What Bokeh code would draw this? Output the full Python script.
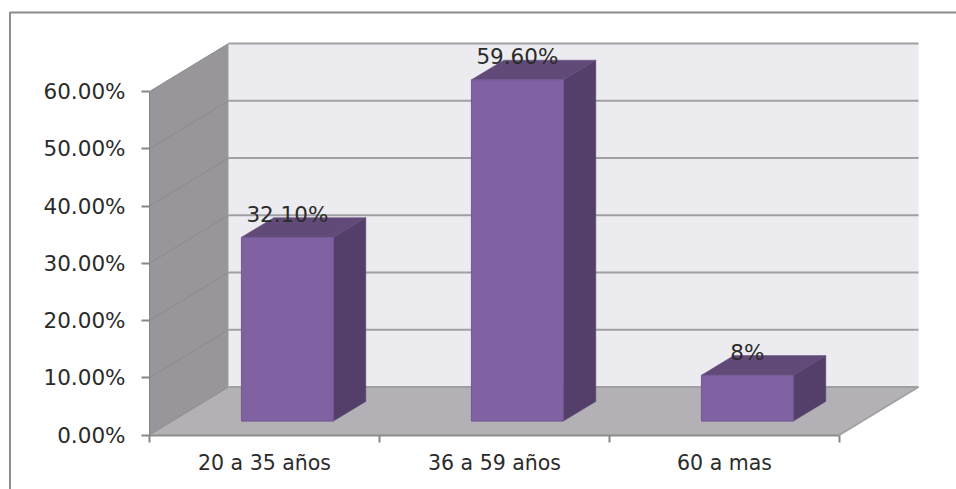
from bokeh.core.properties import value
from bokeh.embed import file_html
from bokeh.models import ColumnDataSource, FixedTicker, LinearAxis, Range1d
from bokeh.plotting import figure
from bokeh.resources import INLINE

# Chart values
categories = ["20 a 35 años", "36 a 59 años", "60 a mas"]
shares = [32.1, 59.6, 8.0]
share_labels = ["32.10%", "59.60%", "8%"]
y_ticks = [0, 10, 20, 30, 40, 50, 60]
y_tick_labels = ["0.00%", "10.00%", "20.00%", "30.00%", "40.00%", "50.00%", "60.00%"]

WIDTH, HEIGHT = 956, 489
# Pixel scale of the value plane: one category and one percentage point
PX_PER_CAT = 230.0
PX_PER_PCT = 5.725
ORIGIN_X, ORIGIN_Y = 149.0, 434.5
# Oblique projection: how far the back of the box is shifted, in data units
DEPTH_X = 79.0 / PX_PER_CAT
DEPTH_Y = 48.0 / PX_PER_PCT
BAR_WIDTH = 0.4
BAR_D0, BAR_D1 = 0.29, 0.70

FONT = "DejaVu Sans"
TEXT = "#2b2b2b"
GRID = "#a0a0a3"


def proj(x, y, d=0.0):
    return x + d * DEPTH_X, y + d * DEPTH_Y


def quad(points):
    pts = [proj(*pt) for pt in points]
    return [q[0] for q in pts], [q[1] for q in pts]


p = figure(
    width=WIDTH,
    height=HEIGHT,
    output_backend="svg",
    toolbar_location=None,
    x_axis_type=None,
    y_axis_type=None,
    x_range=Range1d(-ORIGIN_X / PX_PER_CAT, (WIDTH - ORIGIN_X) / PX_PER_CAT),
    y_range=Range1d((ORIGIN_Y - HEIGHT) / PX_PER_PCT, ORIGIN_Y / PX_PER_PCT),
    min_border=0,
    outline_line_color=None,
    background_fill_color="white",
    border_fill_color="white",
)
p.grid.visible = False

n = len(categories)
top = y_ticks[-1]

# Outer chart border: only the top and left edges fall inside the page
left_px = (9.5 - ORIGIN_X) / PX_PER_CAT
top_val = (ORIGIN_Y - 12.0) / PX_PER_PCT
bottom_val = (ORIGIN_Y - HEIGHT) / PX_PER_PCT
right_px = (WIDTH - ORIGIN_X) / PX_PER_CAT
p.line([left_px, left_px, right_px], [bottom_val, top_val, top_val],
       line_color="#8c8c8c", line_width=2)

# Walls and floor of the 3D box
p.patch(*quad([(0, 0, 1), (n, 0, 1), (n, top, 1), (0, top, 1)]), fill_color="#ecebf0", line_color=None)
p.patch(*quad([(0, 0, 0), (0, 0, 1), (0, top, 1), (0, top, 0)]), fill_color="#98969a", line_color=None)
p.patch(*quad([(0, 0, 0), (n, 0, 0), (n, 0, 1), (0, 0, 1)]), fill_color="#b3b1b5", line_color=None)

# Gridlines bending from the side wall on to the back wall
for t in y_ticks:
    xs, ys = quad([(0, t, 0), (0, t, 1)])
    p.line(xs, ys, line_color="#8a8a8c", line_width=1)
    xs, ys = quad([(0, t, 1), (n, t, 1)])
    p.line(xs, ys, line_color=GRID, line_width=2)
xs, ys = quad([(n, 0, 0), (n, 0, 1)])
p.line(xs, ys, line_color=GRID, line_width=1.5)

# Bars: front, top and side faces
for i, v in enumerate(shares):
    x0 = i + 0.5 - BAR_WIDTH / 2
    x1 = i + 0.5 + BAR_WIDTH / 2
    p.patch(*quad([(x1, 0, BAR_D0), (x1, 0, BAR_D1), (x1, v, BAR_D1), (x1, v, BAR_D0)]),
            fill_color="#533f6a", line_color="#574370", line_width=0.5)
    p.patch(*quad([(x0, v, BAR_D0), (x1, v, BAR_D0), (x1, v, BAR_D1), (x0, v, BAR_D1)]),
            fill_color="#614a78", line_color="#5f4876", line_width=0.5)
    p.patch(*quad([(x0, 0, BAR_D0), (x1, 0, BAR_D0), (x1, v, BAR_D0), (x0, v, BAR_D0)]),
            fill_color="#8061a2", line_color="#735693", line_width=1)

# Value labels sit above each bar's front face
label_pts = [proj(i + 0.5, v, BAR_D0) for i, v in enumerate(shares)]
labels = ColumnDataSource(dict(
    x=[q[0] for q in label_pts],
    y=[q[1] for q in label_pts],
    text=share_labels,
))
p.text("x", "y", text="text", source=labels, text_align="center", text_baseline="middle",
       y_offset=-23, text_font=value(FONT), text_font_size="21.5px", text_color=TEXT)

# Axes pinned to the front edge of the box
y_axis = LinearAxis(
    fixed_location=0,
    bounds=(0, top),
    ticker=FixedTicker(ticks=y_ticks),
    major_label_overrides={t: s for t, s in zip(y_ticks, y_tick_labels)},
    major_label_text_font=FONT,
    major_label_text_font_size="21.5px",
    major_label_text_color=TEXT,
    major_label_standoff=16,
    major_tick_in=0,
    major_tick_out=8,
    major_tick_line_color="#868686",
    major_tick_line_width=2,
    minor_tick_line_color=None,
    axis_line_color="#868686",
    axis_line_width=1,
)
p.add_layout(y_axis, "left")

# Category labels fall between the ticks, so the ticks are drawn as minor ticks
x_axis = LinearAxis(
    fixed_location=0,
    bounds=(0, n),
    ticker=FixedTicker(ticks=[i + 0.5 for i in range(n)], minor_ticks=list(range(n + 1))),
    major_label_overrides={i + 0.5: c for i, c in enumerate(categories)},
    major_label_text_font=FONT,
    major_label_text_font_size="20.5px",
    major_label_text_color=TEXT,
    major_label_standoff=9,
    major_tick_line_color=None,
    major_tick_in=0,
    major_tick_out=0,
    minor_tick_in=0,
    minor_tick_out=7,
    minor_tick_line_color="#868686",
    minor_tick_line_width=2,
    axis_line_color="#8c8c8c",
    axis_line_width=2,
)
p.add_layout(x_axis, "below")

open("out.html", "w").write(file_html(p, INLINE))
